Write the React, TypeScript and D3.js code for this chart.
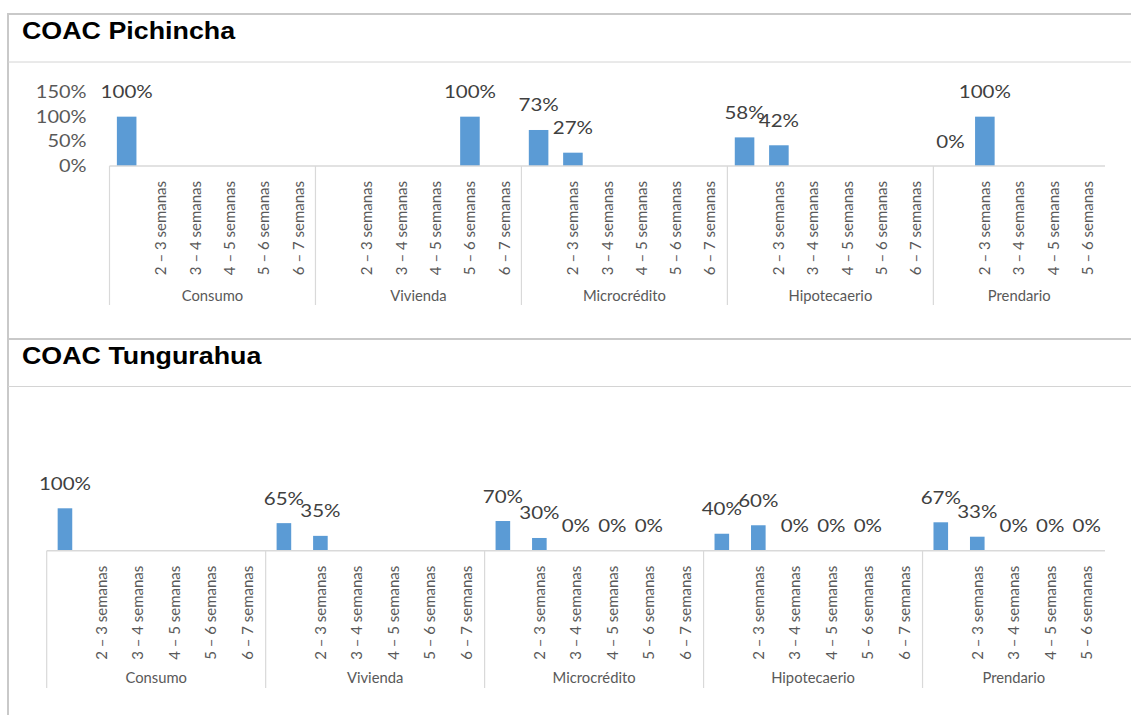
import React from "react";
import * as d3 from "d3";

const groups = ["Consumo", "Vivienda", "Microcrédito", "Hipotecaerio", "Prendario"];
const periods = ["", "2 – 3 semanas", "3 – 4 semanas", "4 – 5 semanas", "5 – 6 semanas", "6 – 7 semanas"];
const slotsPerGroup = [6, 6, 6, 6, 5];

// values per group (null = no bar / no label)
const pichConsumo = [1, null, null, null, null, null];
const pichVivienda = [null, null, null, null, 1, null];
const pichMicro = [0.73, 0.27, null, null, null, null];
const pichHipo = [0.58, 0.42, null, null, null, null];
const pichPrend = [0, 1, null, null, null];

const tungConsumo = [1, null, null, null, null, null];
const tungVivienda = [0.65, 0.35, null, null, null, null];
const tungMicro = [0.7, 0.3, 0, 0, 0, null];
const tungHipo = [0.4, 0.6, 0, 0, 0, null];
const tungPrend = [0.67, 0.33, 0, 0, 0];

const yTicksPich = [0, 0.5, 1, 1.5];

const pichValues = [pichConsumo, pichVivienda, pichMicro, pichHipo, pichPrend];
const tungValues = [tungConsumo, tungVivienda, tungMicro, tungHipo, tungPrend];

type Slot = { key: string; group: string; gi: number; si: number; label: string; value: number | null };

function buildSlots(values: (number | null)[][]): Slot[] {
  const out: Slot[] = [];
  groups.forEach((g, gi) => {
    for (let si = 0; si < slotsPerGroup[gi]; si++) {
      out.push({ key: g + "|" + si, group: g, gi, si, label: periods[si], value: values[gi][si] });
    }
  });
  return out;
}

const LABEL_FONT = "Lato, 'Open Sans', sans-serif";
const SX = 1.14;
const BAR = "#5B9BD5";
const GRID = "#d9d9d9";

type PanelProps = {
  title: string;
  titleY: number;
  values: (number | null)[][];
  x0: number;
  x1: number;
  pad: number;
  y0: number;
  yTop: number;
  yMax: number;
  sepBottom: number;
  groupLabelY: number;
  showAxis: boolean;
};

function Panel(p: PanelProps) {
  const slots = buildSlots(p.values);
  const x = d3
    .scaleBand<string>()
    .domain(slots.map((s) => s.key))
    .range([p.x0, p.x1])
    .paddingInner(p.pad)
    .paddingOuter(p.pad / 2);
  const y = d3.scaleLinear().domain([0, p.yMax]).range([p.y0, p.yTop]);
  const fmt = d3.format(".0%");
  const step = x.step();
  const bw = x.bandwidth();
  const slotLeft = (k: string) => (x(k) as number) - (step - bw) / 2;
  const boundaries = groups.map((g) => slotLeft(g + "|0"));
  const groupCenters = groups.map((g, gi) => {
    const a = slotLeft(g + "|0");
    return a + (step * slotsPerGroup[gi]) / 2;
  });

  return (
    <g>
      <text
        transform={`translate(22,${p.titleY}) scale(1.095,1)`}
        fontFamily="'Liberation Sans', Arial, sans-serif"
        fontWeight="bold"
        fontSize={24.5}
        fill="#000"
      >
        {p.title}
      </text>
      {p.showAxis &&
        yTicksPich.map((t) => (
          <text
            key={t}
            transform={`translate(86.5,${y(t)}) scale(${SX},1)`}
            textAnchor="end"
            dy="0.35em"
            fontFamily={LABEL_FONT}
            fontSize={17.5}
            fill="#595959"
          >
            {fmt(t)}
          </text>
        ))}
      {slots
        .filter((s) => s.value !== null && (s.value as number) > 0)
        .map((s) => (
          <rect
            key={"b" + s.key}
            x={x(s.key) as number}
            y={y(s.value as number)}
            width={bw}
            height={p.y0 - y(s.value as number)}
            fill={BAR}
          />
        ))}
      <line x1={p.x0} x2={p.x1} y1={p.y0} y2={p.y0} stroke={GRID} strokeWidth={1.5} />
      {boundaries.map((bx, i) => (
        <line key={"s" + i} x1={bx} x2={bx} y1={p.y0} y2={p.sepBottom} stroke={GRID} strokeWidth={1.2} />
      ))}
      {slots
        .filter((s) => s.value !== null)
        .map((s) => (
          <text
            key={"l" + s.key}
            transform={`translate(${(x(s.key) as number) + bw / 2},${y(s.value as number) - 18.5}) scale(${SX},1)`}
            textAnchor="middle"
            fontFamily={LABEL_FONT}
            fontSize={18}
            fill="#404040"
          >
            {fmt(s.value as number)}
          </text>
        ))}
      {slots
        .filter((s) => s.label !== "")
        .map((s) => (
          <text
            key={"c" + s.key}
            transform={`translate(${(x(s.key) as number) + bw / 2},${p.y0 + 15}) rotate(-90)`}
            textAnchor="end"
            dy="0.35em"
            fontFamily={LABEL_FONT}
            fontSize={15}
            fill="#595959"
          >
            {s.label}
          </text>
        ))}
      {groups.map((g, gi) => (
        <text
          key={"g" + g}
          transform={`translate(${groupCenters[gi]},${p.groupLabelY}) scale(1.02,1)`}
          textAnchor="middle"
          fontFamily={LABEL_FONT}
          fontSize={14.5}
          fill="#595959"
        >
          {g}
        </text>
      ))}
    </g>
  );
}

export default function App() {
  return (
    <svg
      width={1131}
      height={715}
      style={{ position: "absolute", left: 0, top: 0, background: "#fff" }}
    >
      <rect x={0} y={0} width={1131} height={715} fill="#fff" />
      {/* frame */}
      <line x1={7} x2={1131} y1={14} y2={14} stroke="#c9c9c9" strokeWidth={2} />
      <line x1={8} x2={8} y1={13} y2={715} stroke="#c9c9c9" strokeWidth={2} />
      <line x1={8} x2={1131} y1={62} y2={62} stroke="#d4d4d4" strokeWidth={1} />
      <line x1={8} x2={1131} y1={339} y2={339} stroke="#c9c9c9" strokeWidth={2} />
      <line x1={8} x2={1131} y1={386.5} y2={386.5} stroke="#d4d4d4" strokeWidth={1} />
      <Panel
        title="COAC Pichincha"
        titleY={39.3}
        values={pichValues}
        x0={109.5}
        x1={1105}
        pad={0.43}
        y0={166}
        yTop={92}
        yMax={1.5}
        sepBottom={305}
        groupLabelY={300.5}
        showAxis={true}
      />
      <Panel
        title="COAC Tungurahua"
        titleY={364}
        values={tungValues}
        x0={46.7}
        x1={1105}
        pad={0.6}
        y0={550.7}
        yTop={508.3}
        yMax={1}
        sepBottom={688}
        groupLabelY={682.5}
        showAxis={false}
      />
    </svg>
  );
}
